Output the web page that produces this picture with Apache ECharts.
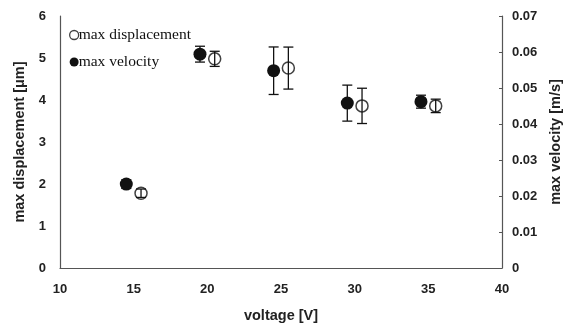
<!DOCTYPE html>
<html>
<head>
<meta charset="utf-8">
<script src="https://cdn.jsdelivr.net/npm/echarts@6/dist/echarts.min.js"></script>
<style>
  html, body { margin: 0; padding: 0; background: #fff; }
  #chart { width: 579px; height: 329px; }
</style>
</head>
<body>
<div id="chart"></div>
<script>
// data
const velVoltage = [14.5, 19.5, 24.5, 29.5, 34.5];
const velValue = [0.0233, 0.0594, 0.0548, 0.0458, 0.0462];
const velErr = [0.0012, 0.0022, 0.0066, 0.0050, 0.0018];

const dispVoltage = [15.5, 20.5, 25.5, 30.5, 35.5];
const dispValue = [1.78, 4.98, 4.76, 3.86, 3.86];
const dispErr = [0.10, 0.18, 0.50, 0.42, 0.16];

const xTicks = [10, 15, 20, 25, 30, 35, 40];

const chart = echarts.init(document.getElementById('chart'));

const pairs = (xs, ys) => xs.map((x, i) => [x, ys[i]]);
const errRows = (xs, ys, es) => xs.map((x, i) => [x, ys[i] - es[i], ys[i] + es[i]]);

// error bar: vertical line plus caps
function errorBar(params, api) {
  const lo = api.coord([api.value(0), api.value(1)]);
  const hi = api.coord([api.value(0), api.value(2)]);
  const w = 5;
  const style = { stroke: '#111', lineWidth: 1.3 };
  return {
    type: 'group',
    children: [
      { type: 'line', shape: { x1: lo[0], y1: lo[1], x2: hi[0], y2: hi[1] }, style: style },
      { type: 'line', shape: { x1: lo[0] - w, y1: lo[1], x2: lo[0] + w, y2: lo[1] }, style: style },
      { type: 'line', shape: { x1: hi[0] - w, y1: hi[1], x2: hi[0] + w, y2: hi[1] }, style: style }
    ]
  };
}

const tickFont = { color: '#222', fontSize: 13, fontWeight: 'bold', fontFamily: 'Liberation Sans' };
const nameFont = { color: '#222', fontSize: 14.5, fontWeight: 'bold', fontFamily: 'Liberation Sans' };

const option = {
  animation: false,
  backgroundColor: '#fff',
  grid: { left: 60, right: 77, top: 16, bottom: 61 },
  legend: {
    orient: 'vertical',
    left: 64,
    top: 21,
    itemWidth: 9,
    itemHeight: 9,
    itemGap: 9,
    textStyle: { fontFamily: 'Liberation Serif', fontSize: 15.5, lineHeight: 18, color: '#111', padding: [0, 0, 0, -5] },
    data: [
      { name: 'max displacement', icon: 'circle', itemStyle: { color: '#fff', borderColor: '#111', borderWidth: 1.3 } },
      { name: 'max velocity', icon: 'circle', itemStyle: { color: '#111' } }
    ]
  },
  xAxis: {
    type: 'value',
    min: xTicks[0],
    max: xTicks[xTicks.length - 1],
    interval: 5,
    name: 'voltage [V]',
    nameLocation: 'middle',
    nameGap: 40,
    nameTextStyle: nameFont,
    axisLine: { lineStyle: { color: '#555', width: 1.2 } },
    axisTick: { show: false },
    axisLabel: Object.assign({ margin: 15 }, tickFont),
    splitLine: { show: false }
  },
  yAxis: [
    {
      type: 'value',
      min: 0,
      max: 6,
      interval: 1,
      name: 'max displacement [\u03bcm]',
      nameLocation: 'middle',
      nameGap: 26,
      nameTextStyle: nameFont,
      axisLine: { show: true, lineStyle: { color: '#555', width: 1.2 } },
      axisTick: { show: false },
      axisLabel: Object.assign({ margin: 14 }, tickFont),
      splitLine: { show: false }
    },
    {
      type: 'value',
      min: 0,
      max: 0.07,
      interval: 0.01,
      position: 'right',
      name: 'max velocity [m/s]',
      nameLocation: 'middle',
      nameGap: 44,
      nameRotate: 90,
      nameTextStyle: nameFont,
      axisLine: { show: true, lineStyle: { color: '#555', width: 1.2 } },
      axisTick: { show: true, inside: true, length: 3, lineStyle: { color: '#555' } },
      axisLabel: Object.assign({ margin: 10 }, tickFont),
      splitLine: { show: false }
    }
  ],
  series: [
    {
      name: 'max displacement',
      type: 'scatter',
      yAxisIndex: 0,
      symbol: 'circle',
      symbolSize: 12,
      itemStyle: { color: 'transparent', borderColor: '#111', borderWidth: 1.5 },
      data: pairs(dispVoltage, dispValue),
      z: 3
    },
    {
      name: 'max velocity',
      type: 'scatter',
      yAxisIndex: 1,
      symbol: 'circle',
      symbolSize: 13,
      itemStyle: { color: '#111', opacity: 1 },
      data: pairs(velVoltage, velValue),
      z: 3
    },
    {
      type: 'custom',
      yAxisIndex: 0,
      renderItem: errorBar,
      data: errRows(dispVoltage, dispValue, dispErr),
      z: 4
    },
    {
      type: 'custom',
      yAxisIndex: 1,
      renderItem: errorBar,
      data: errRows(velVoltage, velValue, velErr),
      z: 2
    }
  ]
};

chart.setOption(option);
</script>
</body>
</html>
